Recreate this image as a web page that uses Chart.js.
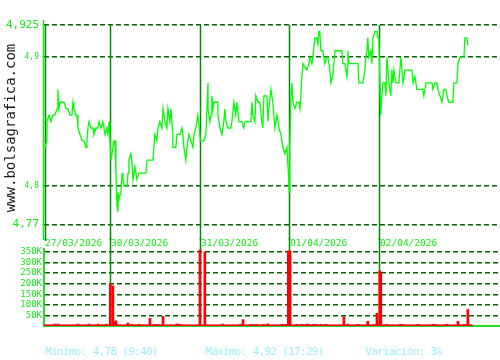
<!DOCTYPE html>
<html>
<head>
<meta charset="utf-8">
<script src="https://cdn.jsdelivr.net/npm/chart.js@4/dist/chart.umd.min.js"></script>
<style>
  body { margin: 0; background: #fff; width: 500px; height: 360px; position: relative; overflow: hidden; }
  canvas { position: absolute; left: 0; }
  #precio { top: 0; }
  #volumen { top: 238px; }
  .pie { position: absolute; top: 345px; line-height: 14px; font: 11px "DejaVu Sans Mono", monospace; letter-spacing: -0.7px; color: #9eeefc; white-space: nowrap; }
</style>
</head>
<body>
<canvas id="precio" width="500" height="240"></canvas>
<canvas id="volumen" width="500" height="92"></canvas>
<div class="pie" style="left:45px">Mínimo: 4,78 (9:40)</div>
<div class="pie" style="left:205px">Máximo: 4,92 (17:29)</div>
<div class="pie" style="left:365px">Variación: 3%</div>
<script>
// minutos de sesion contados desde el 27/03 a las 9:00 (510 min por sesion)
const dias = ['27/03/2026', '30/03/2026', '31/03/2026', '01/04/2026', '02/04/2026'];
const inicioDias = [140, 510, 1020, 1530, 2040];

const tiempos = [
  140, 152, 152, 163, 175, 180, 186, 197, 209, 214, 220, 226, 249, 260, 271, 283, 294, 300, 305, 317,
  323, 328, 340, 351, 362, 374, 379, 385, 391, 402, 414, 419, 431, 442, 448, 459, 470, 476, 482, 493,
  499, 505, 509,
  516, 527, 533, 539, 544, 550, 556, 556, 562, 573, 579, 584, 590, 607, 613, 618, 629, 635, 641, 652,
  658, 664, 675, 715, 721, 755, 760, 766, 777, 783, 794, 806, 812, 823, 834, 840, 851, 857, 868, 868,
  885, 891, 908, 920, 925, 931, 942, 948, 959, 971, 982, 988, 999, 1010, 1019,
  1024, 1045, 1056, 1062, 1068, 1068, 1079, 1085, 1090, 1096, 1102, 1124, 1124, 1130, 1136, 1147, 1158, 1164, 1170, 1181,
  1198, 1204, 1215, 1226, 1232, 1244, 1261, 1272, 1278, 1312, 1318, 1323, 1335, 1340, 1352, 1363, 1374, 1380, 1386, 1403,
  1409, 1414, 1426, 1431, 1437, 1448, 1460, 1466, 1471, 1483, 1488, 1494, 1505, 1517, 1527,
  1530, 1533, 1540, 1545, 1551, 1562, 1574, 1585, 1591, 1596, 1602, 1608, 1630, 1642, 1648, 1659, 1665, 1676, 1687, 1693,
  1699, 1704, 1710, 1721, 1733, 1744, 1750, 1761, 1767, 1778, 1784, 1790, 1830, 1835, 1847, 1858, 1864, 1864, 1869, 1921,
  1926, 1949, 1955, 1960, 1966, 1972, 1977, 1983, 1994, 2000, 2006, 2017, 2029, 2034, 2040,
  2045, 2051, 2057, 2063, 2074, 2080, 2086, 2097, 2108, 2114, 2120, 2125, 2137, 2154, 2165, 2171, 2177, 2188, 2228, 2234,
  2245, 2256, 2268, 2290, 2296, 2308, 2342, 2347, 2359, 2370, 2376, 2387, 2399, 2410, 2421, 2427, 2438, 2461, 2467, 2484,
  2490, 2501, 2524, 2529, 2541, 2546, 2550
];
const precios = [
  4.83, 4.835, 4.85, 4.855, 4.85, 4.85, 4.855, 4.855, 4.86, 4.875, 4.86, 4.865, 4.865, 4.86, 4.86, 4.855, 4.855, 4.865, 4.86, 4.855,
  4.855, 4.845, 4.84, 4.835, 4.835, 4.83, 4.835, 4.845, 4.85, 4.845, 4.845, 4.84, 4.845, 4.845, 4.85, 4.845, 4.85, 4.845, 4.84, 4.845,
  4.84, 4.85, 4.84,
  4.82, 4.83, 4.835, 4.835, 4.81, 4.785, 4.78, 4.795, 4.79, 4.795, 4.81, 4.805, 4.80, 4.80, 4.81, 4.82, 4.825, 4.82, 4.805, 4.815,
  4.81, 4.805, 4.81, 4.81, 4.82, 4.82, 4.83, 4.84, 4.835, 4.845, 4.85, 4.845, 4.86, 4.85, 4.845, 4.86, 4.85, 4.86, 4.84, 4.83,
  4.83, 4.84, 4.84, 4.845, 4.84, 4.83, 4.82, 4.83, 4.84, 4.835, 4.83, 4.84, 4.845, 4.855, 4.845,
  4.835, 4.835, 4.84, 4.86, 4.88, 4.86, 4.85, 4.855, 4.87, 4.86, 4.865, 4.865, 4.855, 4.85, 4.845, 4.84, 4.85, 4.86, 4.85, 4.845,
  4.845, 4.85, 4.865, 4.855, 4.865, 4.85, 4.85, 4.845, 4.85, 4.85, 4.865, 4.855, 4.85, 4.87, 4.865, 4.865, 4.85, 4.845, 4.87, 4.87,
  4.85, 4.86, 4.875, 4.87, 4.865, 4.845, 4.855, 4.85, 4.845, 4.84, 4.835, 4.83, 4.825, 4.83, 4.805,
  4.795, 4.83, 4.87, 4.88, 4.865, 4.86, 4.865, 4.865, 4.86, 4.87, 4.885, 4.895, 4.89, 4.895, 4.90, 4.895, 4.90, 4.915, 4.915, 4.91,
  4.92, 4.92, 4.905, 4.905, 4.895, 4.90, 4.90, 4.89, 4.88, 4.885, 4.895, 4.905, 4.905, 4.895, 4.895, 4.885, 4.895, 4.905, 4.895, 4.895,
  4.88, 4.88, 4.885, 4.89, 4.90, 4.905, 4.915, 4.90, 4.905, 4.895, 4.915, 4.92, 4.92, 4.915, 4.915,
  4.885, 4.855, 4.87, 4.88, 4.88, 4.87, 4.90, 4.88, 4.87, 4.89, 4.88, 4.89, 4.88, 4.88, 4.90, 4.89, 4.88, 4.89, 4.89, 4.88,
  4.885, 4.875, 4.875, 4.875, 4.87, 4.88, 4.88, 4.875, 4.88, 4.88, 4.875, 4.87, 4.865, 4.875, 4.875, 4.87, 4.865, 4.865, 4.88, 4.88,
  4.895, 4.90, 4.90, 4.915, 4.915, 4.91, 4.91
];

const volTiempos = [
  197, 214, 328, 391, 442, 488, 512, 527, 539, 544, 550, 613, 635, 675, 738, 766, 783, 812, 891, 908,
  1022, 1050, 1153, 1250, 1267, 1318, 1340, 1386, 1409, 1488, 1494, 1511, 1525, 1535, 1574, 1602, 1630, 1642, 1670, 1682,
  1710, 1739, 1841, 1864, 1921, 1977, 2006, 2017, 2029, 2045, 2051, 2086, 2160, 2171, 2262, 2347, 2359, 2427, 2490, 2524,
  2529, 2546
];
const volumenes = [
  9000, 9000, 9000, 9000, 9000, 9000, 200000, 190000, 20000, 25000, 8000, 14000, 8000, 8000, 36000, 8000, 8000, 46000, 10000, 8000,
  360000, 350000, 9000, 8000, 30000, 8000, 8000, 8000, 10000, 8000, 8000, 8000, 355000, 355000, 8000, 8000, 9000, 8000, 8000, 8000,
  8000, 8000, 44000, 9000, 8000, 22000, 6000, 6000, 60000, 260000, 255000, 8000, 8000, 8000, 8000, 8000, 8000, 8000, 22000, 8000,
  6000, 78000
];
// volumen minimo de fondo que forma la linea roja de abajo
const baseTiempos = [
  145, 195, 245, 295, 345, 395, 445, 495, 530, 580, 630, 680, 730, 780, 830, 880, 930, 980, 1030, 1080,
  1130, 1180, 1230, 1280, 1330, 1380, 1430, 1480, 1540, 1590, 1640, 1690, 1740, 1790, 1840, 1890, 1940, 1990, 2045, 2095,
  2145, 2195, 2245, 2295, 2345, 2395, 2445, 2495, 2545
];
const baseVolumen = [
  6000, 6000, 6000, 6000, 6000, 6000, 6000, 6000, 6000, 6000, 6000, 6000, 6000, 6000, 6000, 6000, 6000, 6000, 6000, 6000,
  6000, 6000, 6000, 6000, 6000, 6000, 6000, 6000, 6000, 6000, 6000, 6000, 6000, 6000, 6000, 6000, 6000, 6000, 6000, 6000,
  6000, 6000, 6000, 6000, 6000, 6000, 6000, 6000, 6000
];

const ticksPrecio = [4.77, 4.8, 4.9, 4.925];
const etiquetasPrecio = ['4,77', '4,8', '4,9', '4,925'];
const ticksVolumen = [50000, 100000, 150000, 200000, 250000, 300000, 350000];
const etiquetasVolumen = ['50K', '100K', '150K', '200K', '250K', '300K', '350K'];

const mono = '"DejaVu Sans Mono", monospace';
const verde = '#11ee11';
const verdeGrid = '#006400';
const verdeDia = '#008a00';
const xMin = 135, xMax = 2729;

const ajustarEje = (ancho) => (s) => {
  s.width = ancho;
  s.paddingTop = 0; s.paddingBottom = 0; s.paddingLeft = 0; s.paddingRight = 0;
};

const lineasPrecio = {
  id: 'lineasPrecio',
  beforeDatasetsDraw(chart) {
    const { ctx, chartArea, scales: { x } } = chart;
    ctx.save();
    ctx.strokeStyle = '#22dd22';
    ctx.lineWidth = 1.5;
    ctx.beginPath();
    ctx.moveTo(chartArea.left - 0.5, 20);
    ctx.lineTo(chartArea.left - 0.5, chart.height);
    ctx.stroke();
    ctx.strokeStyle = verdeDia;
    inicioDias.forEach((t) => {
      const px = Math.round(x.getPixelForValue(t)) + 0.5;
      ctx.beginPath();
      ctx.moveTo(px, chartArea.top);
      ctx.lineTo(px, chart.height);
      ctx.stroke();
    });
    ctx.restore();
  },
  afterDraw(chart) {
    const ctx = chart.ctx;
    ctx.save();
    ctx.translate(11, 128);
    ctx.rotate(-Math.PI / 2);
    ctx.font = '14px ' + mono;
    ctx.fillStyle = '#1a1a1a';
    ctx.textAlign = 'center';
    ctx.textBaseline = 'middle';
    ctx.fillText('www.bolsagrafica.com', 0, 0);
    ctx.restore();
  }
};

const lineasVolumen = {
  id: 'lineasVolumen',
  beforeDatasetsDraw(chart) {
    const { ctx, chartArea, scales: { x } } = chart;
    ctx.save();
    ctx.strokeStyle = verdeDia;
    ctx.lineWidth = 1.5;
    inicioDias.forEach((t, i) => {
      const px = Math.round(x.getPixelForValue(t)) + 0.5;
      ctx.beginPath();
      ctx.moveTo(px, 0);
      ctx.lineTo(px, i === 0 ? 3 : chartArea.bottom);
      ctx.stroke();
    });
    ctx.font = '9.5px ' + mono;
    ctx.fillStyle = verde;
    ctx.textBaseline = 'middle';
    inicioDias.forEach((t, i) => {
      const px = Math.round(x.getPixelForValue(t));
      ctx.fillText(dias[i], px + (i === 0 ? 0 : 1), 6);
    });
    ctx.restore();
  }
};

new Chart(document.getElementById('precio'), {
  type: 'line',
  data: {
    datasets: [{
      data: tiempos.map((t, i) => ({ x: t, y: precios[i] })),
      borderColor: '#00ff00',
      borderWidth: 1.3,
      pointRadius: 0,
      tension: 0
    }]
  },
  options: {
    responsive: false,
    animation: false,
    devicePixelRatio: 1,
    layout: { padding: { top: 25, left: 0, right: 0, bottom: 0 } },
    plugins: { legend: { display: false }, tooltip: { enabled: false } },
    scales: {
      x: { type: 'linear', min: xMin, max: xMax, display: false },
      y: {
        min: 4.758,
        max: 4.925,
        afterFit: ajustarEje(44),
        afterBuildTicks: (s) => { s.ticks = ticksPrecio.map((v) => ({ value: v })); },
        ticks: {
          autoSkip: false,
          padding: 5,
          color: verde,
          callback: (v, i) => etiquetasPrecio[i],
          font: (c) => ({ family: mono, size: (c.index === 0 || c.index === ticksPrecio.length - 1) ? 11 : 8 })
        },
        grid: { color: verdeGrid, lineWidth: 1.5, drawTicks: false },
        border: { display: false, dash: [5, 3] }
      }
    }
  },
  plugins: [lineasPrecio]
});

new Chart(document.getElementById('volumen'), {
  type: 'bar',
  data: {
    datasets: [{
      data: volTiempos.map((t, i) => ({ x: t, y: volumenes[i] })),
      backgroundColor: '#ff0000',
      barThickness: 2,
      grouped: false
    }, {
      data: baseTiempos.map((t, i) => ({ x: t, y: baseVolumen[i] })),
      backgroundColor: '#ff0000',
      barThickness: 9,
      grouped: false
    }]
  },
  options: {
    responsive: false,
    animation: false,
    devicePixelRatio: 1,
    layout: { padding: { top: 11, left: 0, right: 0, bottom: 0 } },
    plugins: { legend: { display: false }, tooltip: { enabled: false } },
    scales: {
      x: {
        type: 'linear',
        min: xMin,
        max: xMax,
        offset: false,
        afterFit: (s) => { s.height = 4; s.paddingLeft = 0; s.paddingRight = 0; },
        ticks: { display: false },
        grid: { display: false },
        border: { color: '#22dd22', width: 2 }
      },
      y: {
        min: 0,
        max: 364000,
        afterFit: ajustarEje(44),
        afterBuildTicks: (s) => { s.ticks = ticksVolumen.map((v) => ({ value: v })); },
        ticks: {
          autoSkip: false,
          padding: 2,
          color: verde,
          callback: (v, i) => etiquetasVolumen[i],
          font: { family: mono, size: 9 }
        },
        grid: { color: verdeGrid, lineWidth: 1.5, drawTicks: false },
        border: { color: '#22dd22', width: 2, dash: [5, 3] }
      }
    }
  },
  plugins: [lineasVolumen]
});
</script>
</body>
</html>
